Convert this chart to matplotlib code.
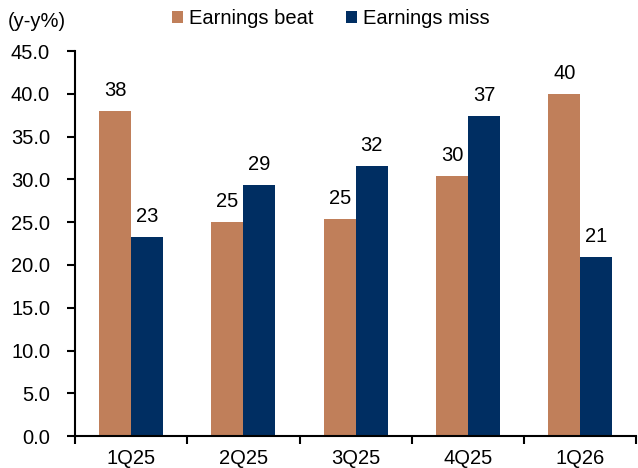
import numpy as np
import matplotlib.pyplot as plt

plt.rcParams['font.family'] = ['Liberation Sans', 'DejaVu Sans']

quarters = ['1Q25', '2Q25', '3Q25', '4Q25', '1Q26']
beat = [38.0, 25.0, 25.4, 30.4, 40.0]
miss = [23.3, 29.3, 31.6, 37.4, 20.9]
yticks = np.arange(0, 46, 5)

c_beat = '#C07F5A'
c_miss = '#002E62'
fs = 14.5

fig = plt.figure(figsize=(6.38, 4.68), dpi=100)
ax = fig.add_axes([0.1176, 0.068, 0.88, 0.823])

x = np.arange(len(quarters))
w = 0.285
b1 = ax.bar(x - w / 2, beat, w, color=c_beat, label='Earnings beat')
b2 = ax.bar(x + w / 2, miss, w, color=c_miss, label='Earnings miss')

for bars, vals in [(b1, beat), (b2, miss)]:
    for rect, v in zip(bars, vals):
        ax.annotate(f'{v:.0f}', (rect.get_x() + rect.get_width() / 2, v),
                    xytext=(0, 8), textcoords='offset points',
                    ha='center', va='bottom', fontsize=fs)

ax.set_xlim(-0.5, len(quarters) - 0.5)
ax.set_ylim(0, 45)
ax.set_yticks(yticks)
ax.set_yticklabels([f'{t:.1f}' for t in yticks], fontsize=fs)
ax.set_xticks(np.arange(-0.5, len(quarters), 1.0))
ax.set_xticklabels([])
ax.set_xticks(x, minor=True)
ax.set_xticklabels(quarters, minor=True, fontsize=fs)
ax.tick_params(axis='x', which='minor', length=0, pad=9)
ax.tick_params(axis='x', which='major', direction='out', length=6, width=1.5)
ax.tick_params(axis='y', direction='out', length=6, width=1.5, pad=12)

for s in ['top', 'right']:
    ax.spines[s].set_visible(False)
ax.spines['left'].set_linewidth(1.5)
ax.spines['bottom'].set_linewidth(1.5)

fig.text(0.012, 0.955, '(y-y%)', fontsize=fs, va='center', ha='left')
fig.legend(handles=[b1, b2], loc='center', bbox_to_anchor=(0.518, 0.96), ncol=2,
           frameon=False, fontsize=fs, handlelength=0.55, handleheight=0.55,
           handletextpad=0.3, columnspacing=1.6)

fig.savefig('out.png', dpi=100)
